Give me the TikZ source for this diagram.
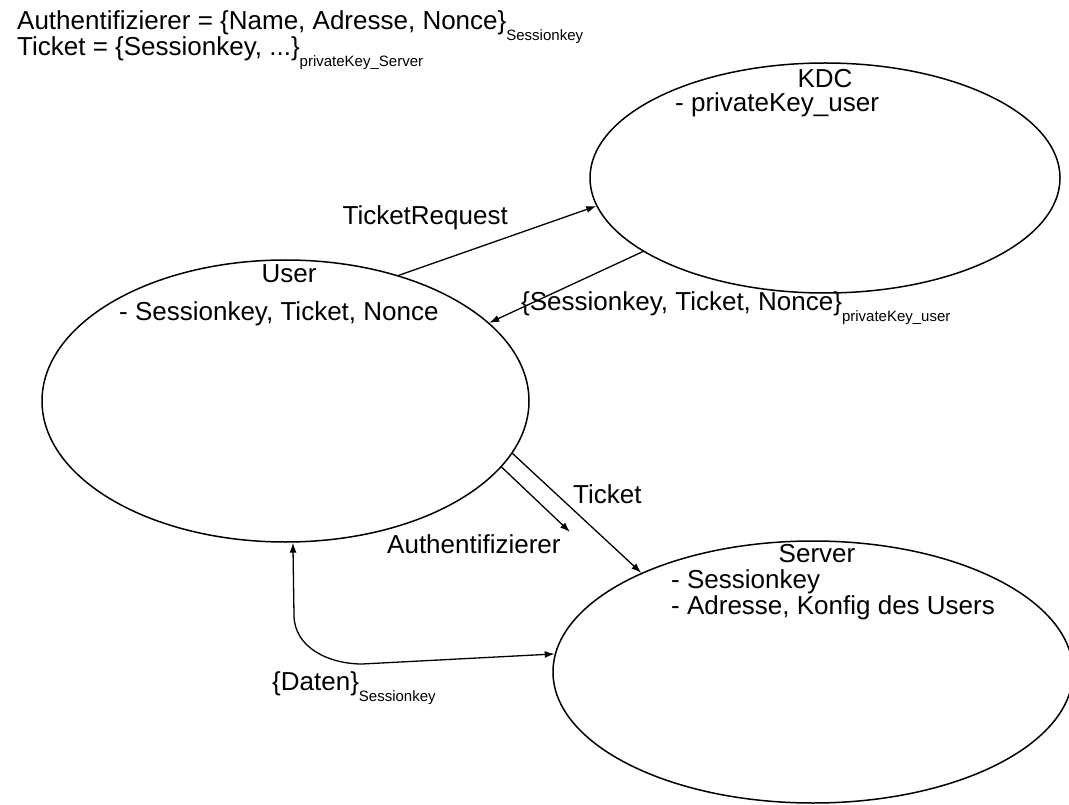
\documentclass[tikz,border=0pt]{standalone}
\usepackage{fontspec}
\setmainfont{Liberation Sans}
\usetikzlibrary{arrows.meta,positioning,shapes.geometric}
\newcommand{\keyidx}[1]{\raisebox{-11pt}[0pt][0pt]{\fontsize{15}{15}\selectfont #1}}

\begin{document}
\begin{tikzpicture}[
    x=1pt, y=-1pt,
    >={Latex[length=10pt,width=7pt]},
    party/.style={draw, ellipse, inner sep=0, line width=1.5pt},
    lbl/.style={inner sep=0, font=\fontsize{26}{30}\selectfont},
    msg/.style={->, line width=1.3pt}]
\useasboundingbox (0,0) rectangle (1069,805);

\node[party, minimum width=487pt, minimum height=282pt] (user)   at (285.5,401) {};
\node[party, minimum width=470pt, minimum height=230pt] (kdc)    at (825,178)   {};
\node[party, minimum width=520pt, minimum height=262pt] (server) at (813,672)   {};

\node[lbl, anchor=base west] (authdef)   at (17,30) {Authentifizierer = \{Name, Adresse, Nonce\}\keyidx{Sessionkey}};
\node[lbl, anchor=base west] (ticketdef) at (17,56) {Ticket = \{Sessionkey, ...\}\keyidx{privateKey\_Server}};

\node[lbl, anchor=base]      (kdcname)     at (825,88)  {KDC};
\node[lbl, anchor=base west] (kdcinfo)     at (675,112) {- privateKey\_user};
\node[lbl, anchor=base]      (username)    at (289,283) {User};
\node[lbl, anchor=base west] (userinfo)    at (119,320) {- Sessionkey, Ticket, Nonce};
\node[lbl, anchor=base]      (servername)  at (817,562) {Server};
\node[lbl, anchor=base west] (serverinfo1) at (671,588) {- Sessionkey};
\node[lbl, anchor=base west] (serverinfo2) at (671,614) {- Adresse, Konfig des Users};

\node[lbl, anchor=base east] (reqlbl)    at (508,225) {TicketRequest};
\node[lbl, anchor=base west] (replbl)    at (521,310) {\{Sessionkey, Ticket, Nonce\}\keyidx{privateKey\_user}};
\node[lbl, anchor=base west] (ticketlbl) at (573,503) {Ticket};
\node[lbl, anchor=base west] (authlbl)   at (387,553) {Authentifizierer};
\node[lbl, anchor=base west] (datenlbl)  at (272,690) {\{Daten\}\keyidx{Sessionkey}};

\coordinate (authend)   at (570,532);
\coordinate (datenbend) at (294,615);
\coordinate (datenfoot) at (362,664);

\draw[msg] (user.48) -- (kdc.187);
\draw[msg] (kdc.202) -- (user.21);
\draw[msg] (user.-17) -- (authend);
\draw[msg] (user.-13) -- (server.150);
\draw[msg, <->] (user.-87) -- (datenbend) to[out=-90, in=180] (datenfoot) -- (server.176);

\end{tikzpicture}
\end{document}
